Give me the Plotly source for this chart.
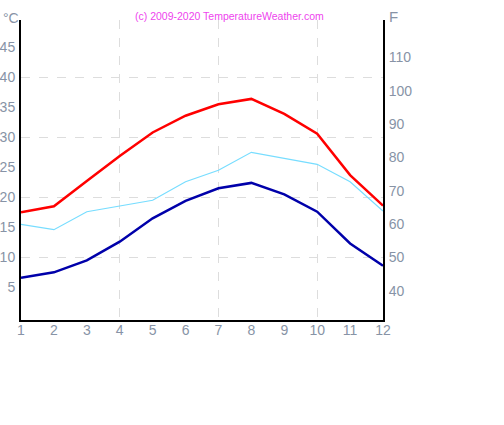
import plotly.graph_objects as go

months = list(range(1, 13))
temp_max = [17.5, 18.5, 22.7, 26.9, 30.8, 33.6, 35.5, 36.4, 33.9, 30.6, 23.7, 18.6]
temp_min = [6.6, 7.5, 9.5, 12.6, 16.5, 19.4, 21.5, 22.4, 20.5, 17.6, 12.3, 8.6]
temp_sea = [15.5, 14.6, 17.6, 18.5, 19.5, 22.6, 24.5, 27.5, 26.5, 25.5, 22.6, 17.7]
c_ticks = [5, 10, 15, 20, 25, 30, 35, 40, 45]
f_ticks = [40, 50, 60, 70, 80, 90, 100, 110]

c_range = [-0.45, 49.55]
f_range = [c * 9 / 5 + 32 for c in c_range]

tick_color = "#8793a6"
grid = dict(showgrid=True, gridcolor="#dddddd", griddash="dash", gridwidth=1, ticklen=0)

fig = go.Figure()
fig.add_trace(go.Scatter(x=months, y=temp_sea, mode="lines",
                         line=dict(color="#77ddff", width=1.2), showlegend=False))
fig.add_trace(go.Scatter(x=months, y=temp_max, mode="lines",
                         line=dict(color="#ff0000", width=2.5), showlegend=False))
fig.add_trace(go.Scatter(x=months, y=temp_min, mode="lines",
                         line=dict(color="#0000aa", width=2.5), showlegend=False))
# invisible trace so the Fahrenheit axis is drawn
fig.add_trace(go.Scatter(x=[months[0]], y=[f_ticks[0]], yaxis="y2", mode="markers",
                         marker=dict(opacity=0), showlegend=False, hoverinfo="skip"))

axis_common = dict(showgrid=False, zeroline=False, showline=True, linecolor="black",
                   linewidth=2, ticks="", automargin=False)

fig.update_layout(
    width=504, height=425,
    margin=dict(l=21, r=121, t=20, b=105),
    paper_bgcolor="white", plot_bgcolor="white",
    font=dict(family="Liberation Sans, Arial, sans-serif", size=14, color=tick_color),
    xaxis=dict(range=[1, 12], tickvals=months, ticklabelstandoff=-4,
               minor=dict(tickvals=[4, 7, 10], **grid), **axis_common),
    yaxis=dict(range=c_range, tickvals=c_ticks, ticklabelstandoff=1,
               minor=dict(tickvals=[10, 20, 30, 40], **grid), **axis_common),
    yaxis2=dict(range=f_range, tickvals=f_ticks, overlaying="y", side="right",
                ticklabelstandoff=1, **axis_common),
    annotations=[
        dict(text="°C", xref="paper", yref="paper", x=-0.028, y=1.007,
             xanchor="center", yanchor="middle", showarrow=False, font=dict(size=14)),
        dict(text="F", xref="paper", yref="paper", x=1.03, y=1.01,
             xanchor="center", yanchor="middle", showarrow=False, font=dict(size=15)),
        dict(text="(c) 2009-2020 TemperatureWeather.com", xref="paper", yref="paper",
             x=0.575, y=1.012, xanchor="center", yanchor="middle", showarrow=False,
             font=dict(size=10.5, color="#ee44ee")),
    ],
)

# drop the page's default body margin so the figure sits at the window corner
fig.write_html("out.html", config={"displayModeBar": False},
               post_script="document.body.style.margin='0';")
